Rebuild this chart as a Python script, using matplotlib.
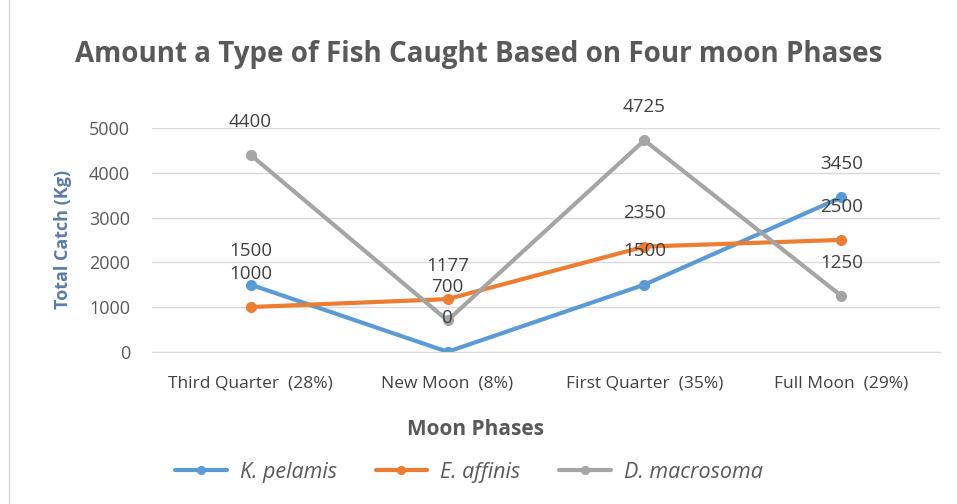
import matplotlib.pyplot as plt
from matplotlib.lines import Line2D

phases = ["Third Quarter  (28%)", "New Moon  (8%)", "First Quarter  (35%)", "Full Moon  (29%)"]
k_pelamis = [1500, 0, 1500, 3450]
e_affinis = [1000, 1177, 2350, 2500]
d_macrosoma = [4400, 700, 4725, 1250]

series = [
    ("K. pelamis", k_pelamis, "#5B9BD5"),
    ("E. affinis", e_affinis, "#ED7D31"),
    ("D. macrosoma", d_macrosoma, "#A5A5A5"),
]

plt.rcParams['font.family'] = ['Open Sans', 'DejaVu Sans']
txt = "#595959"

fig = plt.figure(figsize=(9.57, 5.04), dpi=100)
ax = fig.add_axes([0.159, 0.302, 0.823, 0.444])

x = range(len(phases))
for name, vals, col in series:
    ax.plot(x, vals, color=col, lw=3, marker="o", markersize=7, label=name,
            solid_capstyle="round")

for name, vals, col in series:
    for i, v in enumerate(vals):
        ax.annotate(str(v), (i, v), xytext=(0, 24), textcoords="offset points",
                    ha="center", va="center", fontsize=13.5, color="#404040",
                    annotation_clip=False)

ax.set_xlim(-0.5, 3.5)
ax.set_ylim(0, 5000)
ax.set_yticks(range(0, 5001, 1000))
ax.set_xticks(list(x))
ax.set_xticklabels(phases, fontsize=12.5, color="#404040")
ax.tick_params(axis="y", labelsize=13, labelcolor=txt, length=0, pad=16)
ax.tick_params(axis="x", length=0, pad=17)
ax.grid(axis="y", color="#D9D9D9", lw=1)
ax.set_axisbelow(True)
for s in ["top", "right", "left"]:
    ax.spines[s].set_visible(False)
ax.spines["bottom"].set_color("#D9D9D9")

ax.set_ylabel("Total Catch (Kg)", fontsize=13, fontweight="bold", color="#5A7CA6", labelpad=12)
ax.set_xlabel("Moon Phases", fontsize=15, fontweight="bold", color=txt)
ax.xaxis.set_label_coords(0.41, -0.30)

fig.text(0.5, 0.892, "Amount a Type of Fish Caught Based on Four moon Phases",
         ha="center", va="center", fontsize=20, fontweight="bold", color=txt)

leg = fig.legend(loc="center", bbox_to_anchor=(0.49, 0.063), ncol=3, frameon=False,
                 prop={"style": "italic", "size": 15.5}, handlelength=2.4,
                 handletextpad=0.6, columnspacing=1.8, markerscale=0.8)
for t in leg.get_texts():
    t.set_color(txt)

fig.add_artist(Line2D([0.009, 0.009], [0, 1], color="#D9D9D9", lw=1))

fig.savefig("out.png", dpi=100)
